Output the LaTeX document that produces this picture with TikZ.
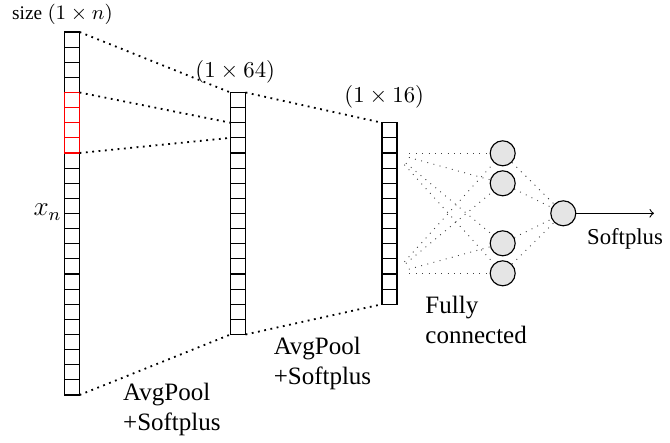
\documentclass[tikz,border=0pt]{standalone}
\usepackage[no-math]{fontspec}
\setmainfont{Liberation Serif}
\usetikzlibrary{calc}
\begin{document}
\begin{tikzpicture}[x=0.44pt,y=-0.44pt,
  colbox/.style={draw, line width=0.5pt, inner sep=0pt, outer sep=0pt, minimum width=6.655pt},
  pooldots/.style={line width=0.8pt, dash pattern=on 0.8pt off 2pt},
  fcdots/.style={line width=0.4pt, black!75, dash pattern=on 0.4pt off 2.4pt},
  neuron/.style={circle, draw, line width=0.5pt, fill=gray!20, minimum size=11pt, inner sep=0pt},
  inpt/.style={circle, minimum size=13.2pt, inner sep=0pt},
  lbl/.style={inner sep=0pt, anchor=base west, align=left, font=\fontsize{11}{13.3}\selectfont},
  mlbl/.style={inner sep=0pt, anchor=base west}
]
\useasboundingbox (0,0) rectangle (670,443);
\def\cs{15.125}
% columns
\node[colbox, minimum height=24*6.655pt] (L1) at (72,213.5) {};
\node[colbox, minimum height=16*6.655pt] (L2) at (238,213.5) {};
\node[colbox, minimum height=12*6.655pt] (L3) at (389.5,213.5) {};
\foreach \i in {1,...,23} \draw[line width=0.5pt] (L1.north west) ++(0,\i*\cs) -- ++(\cs,0);
\foreach \i in {1,...,15} \draw[line width=0.5pt] (L2.north west) ++(0,\i*\cs) -- ++(\cs,0);
\foreach \i in {1,...,11} \draw[line width=0.5pt] (L3.north west) ++(0,\i*\cs) -- ++(\cs,0);
% red window
\foreach \i in {4,...,7} \draw[red, line width=0.5pt] (L1.north west) ++(0,\i*\cs) rectangle ++(\cs,\cs);
\coordinate (rt) at ($(L1.north east)+(0,4*\cs)$);
\coordinate (rb) at ($(L1.north east)+(0,8*\cs)$);
\coordinate (m2) at ($(L2.north west)+(0,2*\cs)$);
\coordinate (m3) at ($(L2.north west)+(0,3*\cs)$);
% pooling connectors
\draw[pooldots] (L1.north east) -- (L2.north west);
\draw[pooldots] (rt) -- (m2);
\draw[pooldots] (rb) -- (m3);
\draw[pooldots] (L1.south east) -- (L2.south west);
\draw[pooldots] (L2.north east) -- (L3.north west);
\draw[pooldots] (L2.south east) -- (L3.south west);
% neurons
\node[inpt] (i1) at (394,153.3) {};
\node[inpt] (i2) at (394,273.3) {};
\node[neuron] (h1) at (502.7,153.3) {};
\node[neuron] (h2) at (502.7,183.3) {};
\node[neuron] (h3) at (502.7,243.3) {};
\node[neuron] (h4) at (502.7,273.3) {};
\node[neuron] (o) at (563.3,213.3) {};
\foreach \a in {i1,i2} \foreach \b in {h1,h2,h3,h4} \draw[fcdots] (\a) -- (\b);
\foreach \b in {h1,h2,h3,h4} \draw[fcdots] (\b) -- (o);
\coordinate (out) at (654,213.3);
\draw[->, line width=0.5pt] (o) -- (out);
% labels
\node[mlbl, font=\fontsize{9.5}{11}\selectfont] (sz) at (11.7,19.5) {{\fontsize{8.5}{10}\selectfont size} $(1\times n)$};
\node[mlbl] (s64) at (195,78) {$(1\times 64)$};
\node[mlbl] (s16) at (344,103) {$(1\times 16)$};
\node[inner sep=0pt, anchor=base east, font=\fontsize{12}{14}\selectfont] (xn) at (62,216) {$x_n$};
\node[lbl] (ap1) at (122.7,431) {AvgPool\\+Softplus};
\node[lbl] (ap2) at (273.3,385) {AvgPool\\+Softplus};
\node[lbl] (fc) at (425,343.3) {Fully\\connected};
\node[mlbl] (sp) at (586.7,245) {Softplus};
\end{tikzpicture}
\end{document}
